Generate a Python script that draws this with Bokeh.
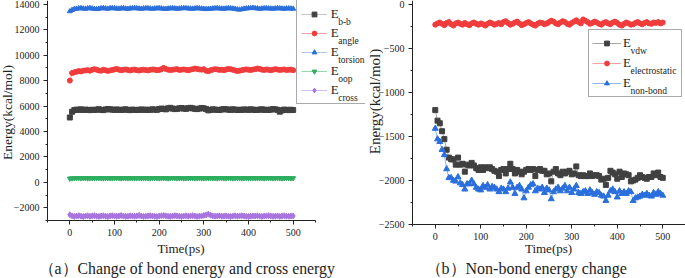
import math
from bokeh.plotting import figure
from bokeh.layouts import row
from bokeh.models import Legend, LegendItem, Label, SingleIntervalTicker, Range1d
from bokeh.embed import file_html
from bokeh.resources import INLINE

# ---------------- data ----------------
time_ps = list(range(0, 501, 5))

e_bb = [5100, 5550, 5680, 5720, 5700, 5740, 5690, 5720, 5700, 5680,
        5710, 5690, 5720, 5750, 5700, 5680, 5730, 5760, 5740, 5720,
        5700, 5730, 5710, 5690, 5720, 5740, 5700, 5680, 5720, 5700,
        5690, 5710, 5730, 5700, 5720, 5690, 5710, 5740, 5720, 5700,
        5760, 5800, 5780, 5740, 5820, 5860, 5800, 5760, 5780, 5820,
        5840, 5800, 5780, 5830, 5860, 5820, 5780, 5760, 5800, 5850,
        5820, 5760, 5660, 5700, 5740, 5720, 5700, 5690, 5730, 5760,
        5740, 5720, 5700, 5740, 5720, 5690, 5710, 5700, 5730, 5720,
        5700, 5740, 5720, 5690, 5700, 5720, 5740, 5700, 5710, 5690,
        5720, 5760, 5740, 5700, 5560, 5660, 5720, 5700, 5680, 5710,
        5690]
e_angle = [8000, 8600, 8650, 8700, 8750, 8720, 8780, 8800, 8820, 8780,
           8850, 8900, 8860, 8800, 8780, 8850, 8820, 8760, 8800, 8840,
           8880, 8920, 8860, 8820, 8850, 8880, 8840, 8800, 8850, 8870,
           8820, 8790, 8840, 8860, 8830, 8800, 8850, 8880, 8860, 8820,
           8840, 8900, 9000, 8920, 8860, 8830, 8850, 8880, 8900, 8840,
           8860, 8880, 8850, 8820, 8860, 8900, 8950, 8920, 8880, 8860,
           8900, 8780, 8740, 8820, 8860, 8900, 8880, 8840, 8860, 8820,
           8880, 8920, 8900, 8850, 8800, 8760, 8780, 8820, 8860, 8880,
           8850, 8830, 8870, 8900, 8950, 8920, 8860, 8840, 8880, 8850,
           8820, 8860, 8900, 8870, 8840, 8860, 8880, 8830, 8850, 8870,
           8820]
e_torsion = [13450, 13550, 13620, 13650, 13680, 13700, 13660, 13650, 13680, 13700,
             13660, 13640, 13620, 13650, 13680, 13700, 13670, 13650, 13690, 13700,
             13680, 13660, 13650, 13680, 13690, 13660, 13640, 13670, 13690, 13700,
             13680, 13660, 13650, 13670, 13690, 13680, 13660, 13650, 13670, 13680,
             13690, 13670, 13650, 13640, 13660, 13680, 13690, 13670, 13650, 13660,
             13680, 13700, 13690, 13670, 13660, 13650, 13670, 13690, 13680, 13660,
             13640, 13620, 13630, 13650, 13670, 13680, 13690, 13670, 13660, 13650,
             13670, 13690, 13680, 13660, 13640, 13600, 13580, 13610, 13650, 13670,
             13690, 13700, 13720, 13690, 13670, 13650, 13660, 13680, 13690, 13670,
             13660, 13650, 13670, 13690, 13680, 13660, 13650, 13670, 13680, 13660,
             13650]
e_oop = [300, 320, 335, 330, 345, 325, 340, 330, 320, 335,
         340, 325, 330, 345, 335, 320, 330, 340, 335, 325,
         330, 345, 340, 320, 330, 335, 325, 340, 330, 320,
         335, 345, 330, 325, 340, 335, 320, 330, 345, 335,
         325, 330, 340, 335, 320, 330, 345, 340, 325, 330,
         335, 320, 330, 340, 345, 330, 325, 335, 340, 320,
         330, 345, 335, 325, 330, 340, 320, 335, 345, 330,
         325, 340, 330, 320, 335, 345, 330, 325, 340, 335,
         320, 330, 345, 335, 325, 330, 340, 320, 335, 330,
         345, 325, 330, 340, 335, 320, 330, 345, 335, 325,
         330]
e_cross = [-2550, -2640, -2680, -2650, -2620, -2660, -2690, -2650, -2630, -2670,
           -2640, -2620, -2660, -2680, -2650, -2630, -2660, -2690, -2640, -2620,
           -2650, -2670, -2640, -2610, -2650, -2680, -2660, -2630, -2650, -2670,
           -2640, -2600, -2650, -2680, -2660, -2640, -2620, -2650, -2670, -2690,
           -2650, -2630, -2610, -2640, -2660, -2680, -2650, -2620, -2640, -2660,
           -2680, -2650, -2630, -2660, -2640, -2620, -2650, -2680, -2660, -2640,
           -2600, -2560, -2500, -2580, -2640, -2660, -2650, -2630, -2670, -2650,
           -2640, -2660, -2680, -2650, -2630, -2660, -2640, -2620, -2650, -2670,
           -2690, -2660, -2640, -2650, -2630, -2660, -2680, -2650, -2640, -2620,
           -2650, -2670, -2660, -2640, -2680, -2650, -2630, -2660, -2670, -2650,
           -2640]

e_vdw = [-1200, -1320, -1350, -1440, -1530, -1650, -1740, -1760, -1760, -1820,
         -1740, -1820, -1810, -1900, -1820, -1830, -1800, -1830, -1860, -1880,
         -1850, -1880, -1850, -1860, -1850, -1870, -1890, -1900, -1950, -1880,
         -1870, -1920, -1870, -1810, -1870, -1920, -1880, -1900, -1930, -1900,
         -1880, -1870, -1880, -1870, -1950, -1880, -1870, -1890, -1890, -1930,
         -1920, -2010, -1900, -1870, -1920, -1940, -1900, -1920, -1900, -1890,
         -1930, -1920, -1840, -1940, -1950, -1940, -1950, -1950, -1920, -1950,
         -1940, -1940, -1950, -1990, -1980, -2050, -1970, -1890, -1910, -1930,
         -1980, -1900, -1960, -1920, -1930, -1940, -2010, -2000, -1990, -1970,
         -1940, -1960, -1970, -1980, -1960, -1960, -1920, -1940, -1910, -1960,
         -1970]
e_elec = [-230, -215, -205, -220, -235, -210, -200, -225, -240, -215,
          -205, -220, -230, -210, -225, -235, -215, -205, -220, -230,
          -215, -225, -240, -220, -205, -215, -230, -220, -210, -225,
          -200, -190, -210, -230, -220, -205, -195, -215, -235, -225,
          -210, -200, -215, -230, -240, -220, -205, -210, -225, -215,
          -200, -185, -195, -215, -225, -205, -190, -200, -220, -230,
          -210, -195, -180, -200, -215, -170, -185, -200, -220, -210,
          -195, -205, -220, -230, -210, -200, -215, -225, -205, -195,
          -210, -230, -240, -220, -205, -215, -230, -225, -210, -200,
          -215, -225, -210, -200, -215, -220, -205, -210, -200, -215,
          -205]
e_nonbond = [-1410, -1530, -1560, -1650, -1710, -1870, -1970, -1970, -2000, -2010,
             -1960, -2030, -2050, -2100, -2040, -2040, -2000, -2040, -2080, -2100,
             -2110, -2060, -2080, -2050, -2100, -2070, -2080, -2100, -2130, -2090,
             -2100, -2130, -2090, -2020, -2080, -2150, -2080, -2060, -2100, -2200,
             -2120, -2080, -2050, -2040, -2120, -2090, -2100, -2080, -2140, -2090,
             -2110, -2210, -2130, -2100, -2080, -2120, -2090, -2060, -2120, -2080,
             -2140, -2100, -2060, -2140, -2150, -2130, -2120, -2150, -2110, -2140,
             -2160, -2130, -2140, -2170, -2180, -2230, -2170, -2120, -2100, -2130,
             -2190, -2120, -2150, -2130, -2150, -2120, -2130, -2230, -2200, -2190,
             -2180, -2160, -2170, -2150, -2170, -2180, -2140, -2160, -2130, -2150,
             -2170]

left_subs = ["b-b", "angle", "torsion", "oop", "cross"]
right_subs = ["vdw", "electrostatic", "non-bond"]
x_label = "Time(ps)"
y_label = "Energy(kcal/mol)"
caption_a = "（a）Change of bond energy and cross energy"
caption_b = "（b）Non-bond energy change"

FONT = "Liberation Serif"
INK = "#222222"
H = 278


def make_fig(width, ax_left, ax_right, ax_bottom, ax_top, x_lo, x_hi, y_lo, y_hi):
    """Figure whose frame fills the canvas; axes are pinned at the data-range edges.
    ax_* are the pixel positions (from the canvas top-left) of the axis extents."""
    sx = (ax_right - ax_left) / (x_hi - x_lo)
    sy = (ax_bottom - ax_top) / (y_hi - y_lo)
    xr = Range1d(x_lo - ax_left / sx, x_hi + (width - ax_right) / sx)
    yr = Range1d(y_lo - (H - ax_bottom) / sy, y_hi + ax_top / sy)
    p = figure(width=width, height=H, title=None, x_range=xr, y_range=yr,
               output_backend="svg", toolbar_location=None,
               min_border=0, min_border_left=0, min_border_right=0,
               min_border_top=0, min_border_bottom=0)
    p.outline_line_color = None
    p.grid.visible = False
    p.xaxis.fixed_location = y_lo
    p.yaxis.fixed_location = x_lo
    p.xaxis.bounds = (x_lo, x_hi)
    p.yaxis.bounds = (y_lo, y_hi)
    return p


def style_axes(p, xint, yint):
    p.xaxis.ticker = SingleIntervalTicker(interval=xint, num_minor_ticks=2)
    p.yaxis.ticker = SingleIntervalTicker(interval=yint, num_minor_ticks=2)
    for ax in (p.xaxis[0], p.yaxis[0]):
        ax.axis_line_color = INK
        ax.major_tick_line_color = INK
        ax.minor_tick_line_color = INK
        ax.major_tick_out = 4
        ax.major_tick_in = 0
        ax.minor_tick_out = 2
        ax.minor_tick_in = 0
        ax.major_label_text_font = FONT
        ax.major_label_text_font_size = "10px"
        ax.major_label_text_color = INK
        ax.major_label_standoff = 4


def add_text(p, x, y, text, size, angle=0.0, align="left", baseline="middle"):
    p.add_layout(Label(x=x, y=y, x_units="screen", y_units="screen",
                       text=text, angle=angle, text_font=FONT,
                       text_font_size=size, text_color=INK,
                       text_align=align, text_baseline=baseline))


def add_legend(p, items, subs, x, y, pad, gw, gh, lh, standoff, lw):
    leg = Legend(items=items, location=(x, y), padding=pad, spacing=0,
                 glyph_width=gw, glyph_height=gh, label_height=lh,
                 label_width=lw, label_standoff=standoff,
                 label_text_font=FONT, label_text_font_size="13px",
                 label_text_color=INK,
                 border_line_color="#555555", border_line_width=1,
                 background_fill_color="white", background_fill_alpha=0.0,
                 margin=0)
    p.add_layout(leg)
    n = len(subs)
    h = 2 * pad + n * lh
    for i, s in enumerate(subs):
        cy = y + h - pad - (i + 0.5) * lh
        add_text(p, x + pad + gw + standoff + 8, cy - 6.5, s, "9.5px",
                 baseline="alphabetic")


# ---------------- left panel ----------------
p1 = make_fig(365, 47, 315, 220, 0, -50, 550, -3000, 14300)
style_axes(p1, 100, 2000)

left_series = [
    (e_bb, "square", "#404040", "#c4c4c4", 5),
    (e_angle, "circle", "#f03c3c", "#f6a3a3", 5),
    (e_torsion, "triangle", "#2a6fdc", "#a9c5f0", 5),
    (e_oop, "inverted_triangle", "#2eae60", "#94d8ab", 5),
    (e_cross, "diamond", "#a874e0", "#d6bdf2", 6),
]
items1 = []
for ys, mk, mc, lc, sz in left_series:
    lr = p1.line(time_ps, ys, line_color=lc, line_width=1)
    sr = p1.scatter(time_ps, ys, marker=mk, size=sz, fill_color=mc, line_color=mc)
    items1.append(LegendItem(label="E", renderers=[lr, sr]))
add_legend(p1, items1, left_subs, 295.7, H - 104, 4, 26, 12, 19, 4, 30)
add_text(p1, 7, H - 112, y_label, "13.5px", angle=math.pi / 2, align="center")
add_text(p1, 180.5, H - 248, x_label, "13px", align="center")
add_text(p1, 38, H - 268, caption_a, "15.8px")

# ---------------- right panel ----------------
p2 = make_fig(320, 47, 320, 224, 0, -50, 550, -2500, 45)
style_axes(p2, 100, 500)

right_series = [
    (e_vdw, "square", "#404040", "#a8a8a8", 5),
    (e_elec, "circle", "#f03c3c", "#f6a3a3", 5),
    (e_nonbond, "triangle", "#2a6fdc", "#8fb3ee", 6),
]
items2 = []
for ys, mk, mc, lc, sz in right_series:
    lr = p2.line(time_ps, ys, line_color=lc, line_width=1)
    sr = p2.scatter(time_ps, ys, marker=mk, size=sz, fill_color=mc, line_color=mc)
    items2.append(LegendItem(label="E", renderers=[lr, sr]))
add_legend(p2, items2, right_subs, 223, H - 97, 3, 29, 12, 20, 2, 55)
add_text(p2, 9, H - 101, y_label, "15px", angle=math.pi / 2, align="center")
add_text(p2, 183, H - 248, x_label, "13px", align="center")
add_text(p2, 60, H - 268, caption_b, "16px")

layout = row(p1, p2)
open("out.html", "w").write(file_html(layout, INLINE))
